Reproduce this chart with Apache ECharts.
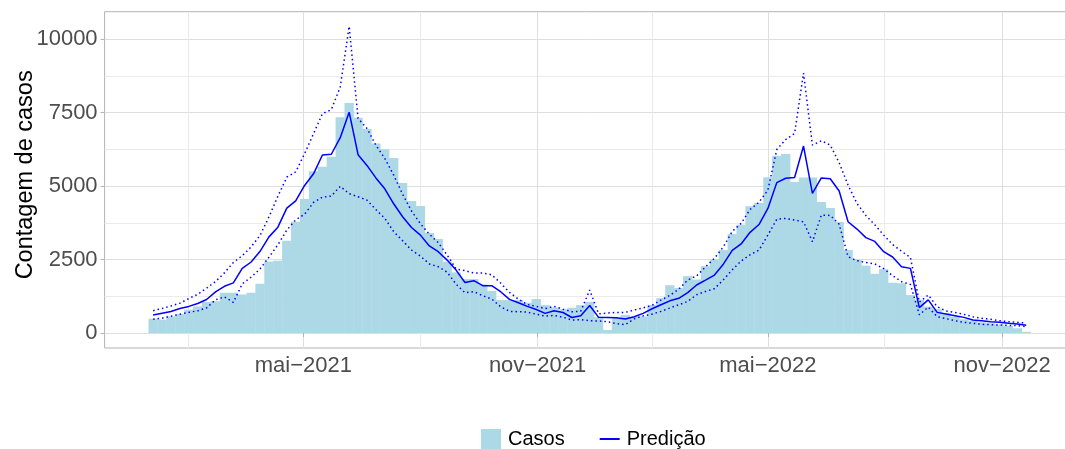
<!DOCTYPE html>
<html><head><meta charset="utf-8">
<script src="https://cdn.jsdelivr.net/npm/echarts@6/dist/echarts.min.js"></script>
<style>html,body{margin:0;padding:0;background:#fff}#c{width:1065px;height:449px}</style>
</head><body><div id="c"></div>
<script>
const semanas = ['2021-01-03','2021-01-10','2021-01-17','2021-01-24','2021-01-31','2021-02-07','2021-02-14','2021-02-21','2021-02-28','2021-03-07',
'2021-03-14','2021-03-21','2021-03-28','2021-04-04','2021-04-11','2021-04-18','2021-04-25','2021-05-02','2021-05-09','2021-05-16',
'2021-05-23','2021-05-30','2021-06-06','2021-06-13','2021-06-20','2021-06-27','2021-07-04','2021-07-11','2021-07-18','2021-07-25',
'2021-08-01','2021-08-08','2021-08-15','2021-08-22','2021-08-29','2021-09-05','2021-09-12','2021-09-19','2021-09-26','2021-10-03',
'2021-10-10','2021-10-17','2021-10-24','2021-10-31','2021-11-07','2021-11-14','2021-11-21','2021-11-28','2021-12-05','2021-12-12',
'2021-12-19','2021-12-26','2022-01-02','2022-01-09','2022-01-16','2022-01-23','2022-01-30','2022-02-06','2022-02-13','2022-02-20',
'2022-02-27','2022-03-06','2022-03-13','2022-03-20','2022-03-27','2022-04-03','2022-04-10','2022-04-17','2022-04-24','2022-05-01',
'2022-05-08','2022-05-15','2022-05-22','2022-05-29','2022-06-05','2022-06-12','2022-06-19','2022-06-26','2022-07-03','2022-07-10',
'2022-07-17','2022-07-24','2022-07-31','2022-08-07','2022-08-14','2022-08-21','2022-08-28','2022-09-04','2022-09-11','2022-09-18',
'2022-09-25','2022-10-02','2022-10-09','2022-10-16','2022-10-23','2022-10-30','2022-11-06','2022-11-13','2022-11-20'];

const casos = [485,455,565,645,795,905,1055,1080,1370,1370,
 1310,1370,1675,2430,2460,3140,3785,4555,5505,5655,
 5995,7340,7820,7320,6940,6450,6250,5950,5100,4490,
 4320,3400,3195,2425,2060,1835,1835,1655,1430,1120,
 1120,1120,1030,1155,950,870,805,860,950,1060,
 540,100,510,610,555,565,950,1185,1625,1530,
 1935,1820,2275,2505,2820,3365,3680,4315,4420,5295,
 6030,6085,5135,5290,5290,4455,4250,3775,2820,2500,
 2290,2015,2170,1710,1690,1290,1130,900,810,668,
 555,464,419,362,329,283,238,159,40];

const predicao = [615,675,730,835,905,1005,1140,1400,1590,1705,
 2195,2415,2780,3270,3600,4250,4495,5020,5415,6055,
 6080,6645,7510,6065,5700,5275,4905,4395,3955,3590,
 3330,2960,2765,2480,2140,1720,1780,1610,1610,1405,
 1145,1030,905,800,668,759,697,527,585,935,
 532,527,521,476,555,668,825,960,1095,1180,
 1375,1632,1801,1971,2340,2810,3030,3425,3690,4237,
 5115,5265,5291,6360,4747,5275,5246,4830,3784,3535,
 3245,3115,2765,2585,2255,2198,865,1128,702,646,
 589,532,442,419,385,363,329,306,261];

const limiteSuperior = [760,835,920,1015,1170,1315,1525,1750,2045,2400,
 2630,2930,3320,3950,4650,5300,5480,6100,6780,7460,
 7600,8370,10430,7300,6960,6390,5940,5370,4720,4150,
 3715,3360,3075,2650,2180,2120,2040,2040,1980,1700,
 1380,1150,970,905,830,905,810,725,742,1462,
 650,680,700,702,782,855,940,1120,1280,1490,
 1800,1940,2250,2540,2930,3455,3730,4200,4450,4860,
 6240,6580,6787,8840,6390,6537,6390,5795,5030,4407,
 4000,3680,3330,3010,2780,2570,1050,1292,895,748,
 702,634,555,498,464,419,385,363,340];

const limiteInferior = [470,505,573,640,703,755,855,1130,1230,1040,
 1670,1900,2180,2580,3000,3500,3850,4040,4440,4620,
 4657,4990,4740,4634,4520,4200,3900,3450,3138,2821,
 2617,2350,2255,2070,1660,1371,1405,1269,1156,895,
 736,725,708,640,578,595,538,442,453,419,
 408,385,318,284,480,584,640,736,850,960,
 1075,1300,1415,1505,1810,2150,2450,2660,2820,3330,
 3870,3898,3841,3784,3104,4011,4000,3700,2595,2460,
 2400,2350,2190,1950,1745,1650,620,880,555,490,
 419,363,329,295,283,272,261,249,215];

const xTickDates = ['2021-05-01','2021-11-01','2022-05-01','2022-11-01'];
const xTickLabels = ['mai\u22122021','nov\u22122021','mai\u22122022','nov\u22122022'];
const xMinorDates = ['2021-01-30T12:00','2021-07-31T12:00','2022-01-30T12:00','2022-07-31T12:00'];
const yTicks = [0, 2500, 5000, 7500, 10000];
const yMinorTicks = [1250, 3750, 6250, 8750];

const ts = s => Date.parse(s.length === 10 ? s + 'T00:00:00Z' : s + ':00Z');
const xTickTs = xTickDates.map(ts);
const xMinorTs = xMinorDates.map(ts);
const xMin = ts('2020-11-25T20:24');
const xMax = ts('2022-12-28T03:36');
const FONT = 'Liberation Sans';
const pair = arr => semanas.map((d, i) => [ts(d), arr[i]]);

const chart = echarts.init(document.getElementById('c'), null, {renderer: 'canvas'});
chart.setOption({
  animation: false,
  backgroundColor: '#ffffff',
  textStyle: {fontFamily: FONT},
  grid: {left: 104.6, right: -9.8, top: 11.7, bottom: 101, show: true, containLabel: false,
         outerBoundsMode: 'none',
         borderColor: '#b3b3b3', borderWidth: 1, backgroundColor: 'transparent'},
  legend: {
    data: [{name: 'Casos', icon: 'rect'}, {name: 'Predição', icon: 'path://M0,0H20V2H0Z'}],
    left: 481, top: 429, padding: 0, itemWidth: 20, itemHeight: 20, itemGap: 35,
    textStyle: {fontSize: 20, color: '#000', fontFamily: FONT, padding: [0, 0, 0, 2]}
  },
  xAxis: [{
    type: 'value', min: xMin, max: xMax,
    axisLine: {show: false},
    axisTick: {show: true, length: 4, lineStyle: {color: '#b3b3b3', width: 1}, customValues: xTickTs},
    axisLabel: {customValues: xTickTs, color: '#4d4d4d', fontSize: 22, fontFamily: FONT, margin: 7,
      formatter: v => { const i = xTickTs.findIndex(t => Math.abs(t - v) < 86400000); return i >= 0 ? xTickLabels[i] : ''; }},
    splitLine: {show: true, lineStyle: {color: '#dedede', width: 1}}
  }, {
    type: 'value', min: xMin, max: xMax, gridIndex: 0, position: 'bottom',
    axisLine: {show: false}, axisLabel: {show: false},
    axisTick: {show: false, customValues: xMinorTs},
    splitLine: {show: true, lineStyle: {color: '#ebebeb', width: 1}}
  }],
  yAxis: [{
    type: 'value', min: -510, max: 10929,
    name: 'Contagem de casos', nameLocation: 'middle', nameGap: 67, nameRotate: 90,
    nameMoveOverlap: false,
    nameTextStyle: {fontSize: 23.5, color: '#000', fontFamily: FONT, padding: [0, 0, 0, 10]},
    axisLine: {show: false},
    axisTick: {show: true, length: 4, lineStyle: {color: '#b3b3b3', width: 1}, customValues: yTicks},
    axisLabel: {customValues: yTicks, color: '#4d4d4d', fontSize: 22, fontFamily: FONT, margin: 7,
      formatter: v => String(v)},
    splitLine: {show: true, lineStyle: {color: '#dedede', width: 1}}
  }, {
    type: 'value', min: -510, max: 10929, gridIndex: 0, position: 'left',
    axisLine: {show: false}, axisLabel: {show: false},
    axisTick: {show: false, customValues: yMinorTicks},
    splitLine: {show: true, lineStyle: {color: '#ebebeb', width: 1}}
  }],
  series: [{
    name: 'Casos', type: 'bar', xAxisIndex: 0, yAxisIndex: 0,
    data: pair(casos), barWidth: 9.3, itemStyle: {color: '#ADD8E6'}, z: 2
  }, {
    name: 'Predição', type: 'line', xAxisIndex: 0, yAxisIndex: 0,
    data: pair(predicao), showSymbol: false, symbol: 'none',
    itemStyle: {color: '#0000FF'}, lineStyle: {color: '#0000FF', width: 1.5}, z: 4
  }, {
    name: 'Limite superior', type: 'line', xAxisIndex: 0, yAxisIndex: 0,
    data: pair(limiteSuperior), showSymbol: false, symbol: 'none',
    itemStyle: {color: '#0000FF'}, lineStyle: {color: '#0000FF', width: 1.5, type: [1.5, 3]}, z: 3
  }, {
    name: 'Limite inferior', type: 'line', xAxisIndex: 0, yAxisIndex: 0,
    data: pair(limiteInferior), showSymbol: false, symbol: 'none',
    itemStyle: {color: '#0000FF'}, lineStyle: {color: '#0000FF', width: 1.5, type: [1.5, 3]}, z: 3
  }]
});
</script></body></html>
